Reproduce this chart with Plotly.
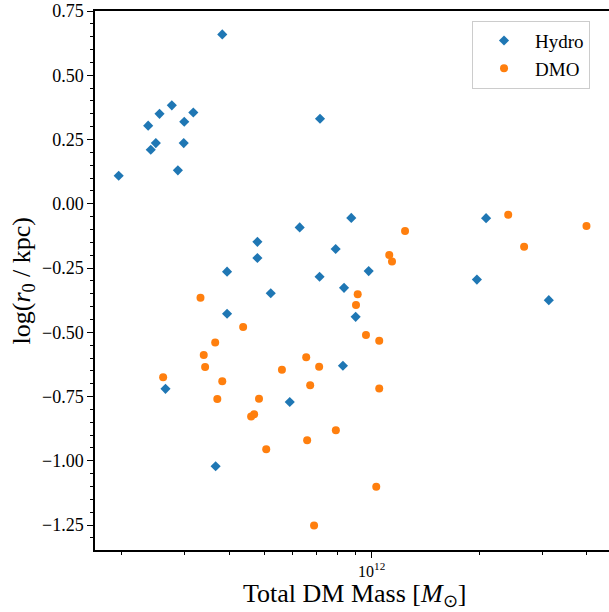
import plotly.graph_objects as go

# Hydro runs: total DM mass [Msun] and log(r0/kpc)
hydro_mass = [3.82e11, 7.17e11, 2.76e11, 2.55e11, 3.17e11, 2.99e11, 2.37e11, 2.49e11,
              2.41e11, 2.98e11, 2.87e11, 1.96e11, 6.29e11, 8.77e11, 4.79e11, 7.93e11,
              4.79e11, 3.94e11, 7.15e11, 8.37e11, 5.22e11, 3.94e11, 8.31e11, 2.65e11,
              5.90e11, 3.66e11, 9.81e11, 9.02e11, 2.09e12, 1.97e12, 3.13e12]
hydro_logr0 = [0.659, 0.331, 0.383, 0.350, 0.355, 0.319, 0.304, 0.236,
               0.210, 0.236, 0.130, 0.109, -0.092, -0.055, -0.148, -0.176,
               -0.211, -0.264, -0.284, -0.327, -0.348, -0.428, -0.630, -0.720,
               -0.771, -1.021, -0.262, -0.440, -0.056, -0.295, -0.375]

# DMO runs
dmo_mass = [3.32e11, 4.37e11, 3.65e11, 3.39e11, 6.56e11, 3.42e11, 7.13e11, 5.61e11,
            2.61e11, 3.82e11, 6.73e11, 3.70e11, 4.84e11, 4.69e11, 4.60e11, 7.94e11,
            6.60e11, 5.07e11, 6.90e11, 2.41e12, 3.99e12, 1.24e12, 2.67e12, 1.12e12,
            1.14e12, 9.14e11, 9.04e11, 9.64e11, 1.05e12, 1.05e12, 1.03e12]
dmo_logr0 = [-0.366, -0.479, -0.540, -0.588, -0.597, -0.635, -0.634, -0.646,
             -0.675, -0.690, -0.706, -0.760, -0.759, -0.819, -0.828, -0.881,
             -0.920, -0.955, -1.252, -0.043, -0.086, -0.106, -0.167, -0.199,
             -0.225, -0.352, -0.394, -0.511, -0.533, -0.719, -1.101]

x_major_ticks = [1e12]
x_major_labels = ["10<sup>12</sup>"]
x_minor_ticks = [2e11, 3e11, 4e11, 5e11, 6e11, 7e11, 8e11, 9e11, 2e12, 3e12, 4e12, 5e12]

x_title = "Total DM Mass [<i>M</i><sub>⊙</sub>]"
y_title = "log(<i>r</i><sub>0</sub> / kpc)"

FONT = "Liberation Serif"

fig = go.Figure()
fig.add_trace(go.Scatter(
    x=hydro_mass, y=hydro_logr0, mode="markers", name="Hydro",
    marker=dict(symbol="diamond", size=7.8, color="#1f77b4", line=dict(width=0)),
))
fig.add_trace(go.Scatter(
    x=dmo_mass, y=dmo_logr0, mode="markers", name="DMO",
    marker=dict(symbol="circle", size=8, color="#ff7f0e", line=dict(width=0)),
))

fig.update_layout(
    width=609, height=612,
    margin=dict(l=95, r=0, t=11, b=62, autoexpand=False),
    paper_bgcolor="white", plot_bgcolor="white",
    font=dict(family=FONT, color="black", size=18),
    showlegend=True,
    legend=dict(
        x=0.7335, y=0.982, xanchor="left", yanchor="top",
        bgcolor="white", bordercolor="#cccccc", borderwidth=1,
        font=dict(family=FONT, size=19),
        itemsizing="trace", itemwidth=52,
    ),
    xaxis=dict(
        type="log", range=[11.226, 12.664], automargin=False,
        tickvals=x_major_ticks, ticktext=x_major_labels,
        ticks="outside", ticklen=6, tickwidth=1.2, tickcolor="black",
        minor=dict(tickvals=x_minor_ticks, ticks="outside", ticklen=3,
                   tickwidth=1, tickcolor="black"),
        showline=True, linecolor="black", linewidth=1.5, mirror=True,
        showgrid=False, zeroline=False,
        tickfont=dict(family=FONT, size=16),
    ),
    yaxis=dict(
        range=[-1.347, 0.75], automargin=False,
        tick0=0.75, dtick=0.25, tickformat=".2f",
        ticks="outside", ticklen=6, tickwidth=1.2, tickcolor="black",
        minor=dict(dtick=0.05, tick0=0.75, ticks="outside", ticklen=3,
                   tickwidth=1, tickcolor="black"),
        showline=True, linecolor="black", linewidth=1.5, mirror=False,
        showgrid=False, zeroline=False,
        tickfont=dict(family=FONT, size=18),
    ),
    annotations=[
        dict(text=x_title, xref="paper", yref="paper", x=0.504, y=-0.084,
             xanchor="center", yanchor="middle", showarrow=False,
             font=dict(family=FONT, size=26)),
        dict(text=y_title, xref="paper", yref="paper", x=-0.142, y=0.5,
             xanchor="center", yanchor="middle", showarrow=False, textangle=-90,
             font=dict(family=FONT, size=26)),
    ],
)

fig.write_html("out.html", config={"displayModeBar": False},
               post_script="document.body.style.margin='0';document.body.style.overflow='hidden';")
